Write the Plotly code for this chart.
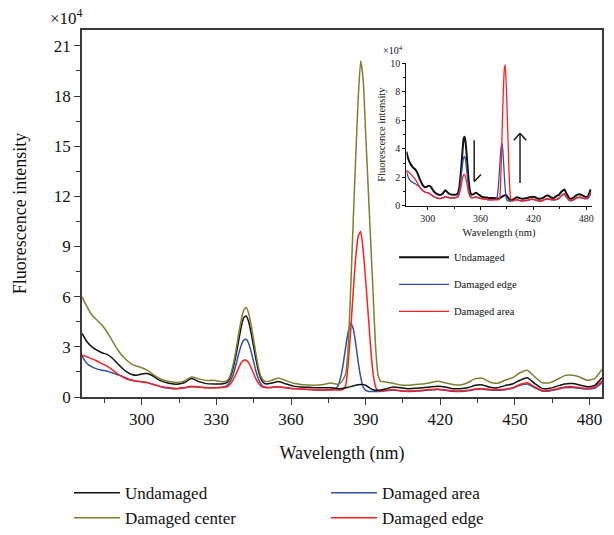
import plotly.graph_objects as go

# ---------------- data (values in units of 10^4) ----------------
wavelength = [276, 278, 280, 282, 284, 286, 288, 290, 292, 294, 296, 298, 300, 302, 304, 306, 308,
              311, 314, 317, 320, 323, 326, 329, 332,
              334, 335, 336, 337, 338, 339, 340, 341, 342, 343, 344, 345, 346, 347, 348, 349, 350,
              352, 355, 358, 361, 364, 367, 370, 373, 376,
              378, 379, 380, 381, 382, 383, 384, 385, 386, 387, 388, 389, 390, 391, 392, 393, 394, 395, 396,
              398, 401, 404, 407, 410, 413, 416, 419, 422, 425, 428, 431, 434, 437, 440, 443, 446, 449,
              452, 455, 458, 461, 464, 467, 470, 473, 476, 479, 482, 485]

undamaged = [3.8, 3.3, 3.0, 2.8, 2.65, 2.55, 2.35, 2.05, 1.75, 1.5, 1.35, 1.3, 1.38, 1.4, 1.3, 1.1, 0.95,
             0.82, 0.76, 0.85, 1.1, 0.92, 0.8, 0.78, 0.78,
             0.85, 1.0, 1.35, 1.9, 2.6, 3.4, 4.2, 4.75, 4.85, 4.5, 3.8, 3.0, 2.2, 1.5, 1.05, 0.85, 0.78,
             0.82, 0.92, 0.78, 0.65, 0.6, 0.58, 0.55, 0.55, 0.55,
             0.52, 0.5, 0.5, 0.52, 0.55, 0.58, 0.62, 0.66, 0.7, 0.73, 0.75, 0.74, 0.7, 0.6, 0.5, 0.43, 0.4, 0.4, 0.42,
             0.48, 0.6, 0.55, 0.5, 0.52, 0.55, 0.6, 0.64, 0.6, 0.5, 0.5, 0.55, 0.7, 0.72, 0.58, 0.55, 0.68, 0.78,
             1.0, 1.15, 0.8, 0.5, 0.52, 0.65, 0.78, 0.8, 0.72, 0.62, 0.7, 1.15]

damaged_center = [6.0, 5.4, 4.9, 4.6, 4.3, 3.9, 3.4, 2.9, 2.5, 2.2, 1.95, 1.85, 1.75, 1.62, 1.42, 1.2, 1.05,
                  0.93, 0.87, 0.95, 1.2, 1.08, 0.98, 1.0, 0.92,
                  0.95, 1.1, 1.5, 2.1, 2.9, 3.8, 4.6, 5.2, 5.35, 5.0, 4.3, 3.4, 2.5, 1.7, 1.2, 0.98, 0.92,
                  0.98, 1.14, 0.98, 0.82, 0.75, 0.72, 0.7, 0.75, 0.84,
                  0.78, 0.76, 0.85, 1.05, 1.4, 3.0, 6.5, 10.5, 14.3, 17.8, 20.1, 19.0, 15.8, 12.6, 9.4, 6.2, 3.0, 1.3, 0.95,
                  0.9, 0.82, 0.72, 0.7, 0.75, 0.78, 0.85, 0.94, 0.85, 0.75, 0.72, 0.85, 1.1, 1.12, 0.88, 0.82, 1.0, 1.15,
                  1.45, 1.6, 1.2, 0.85, 0.85, 1.05, 1.28, 1.3, 1.2, 1.0, 1.1, 1.65]

blue_series = [2.45, 2.0, 1.8, 1.68, 1.6, 1.55, 1.45, 1.35, 1.25, 1.12, 1.0, 0.95, 0.92, 0.88, 0.78, 0.68, 0.6,
               0.53, 0.5, 0.55, 0.62, 0.58, 0.55, 0.55, 0.58,
               0.66, 0.8, 1.05, 1.45, 2.0, 2.6, 3.1, 3.4, 3.45, 3.2, 2.7, 2.1, 1.5, 1.05, 0.75, 0.62, 0.58,
               0.57, 0.62, 0.55, 0.5, 0.48, 0.45, 0.42, 0.42, 0.45,
               0.5, 0.7, 1.2, 2.0, 3.0, 3.9, 4.4, 4.1, 3.2, 2.1, 1.2, 0.6, 0.4, 0.35, 0.33, 0.33, 0.33, 0.33, 0.33,
               0.37, 0.42, 0.36, 0.33, 0.35, 0.37, 0.42, 0.45, 0.4, 0.34, 0.33, 0.37, 0.45, 0.47, 0.42, 0.4, 0.44, 0.52,
               0.7, 0.78, 0.55, 0.35, 0.36, 0.46, 0.55, 0.57, 0.52, 0.48, 0.52, 0.85]

red_series = [2.5, 2.4, 2.28, 2.15, 2.0, 1.85, 1.65, 1.42, 1.22, 1.08, 1.0, 0.95, 0.9, 0.86, 0.78, 0.7, 0.62,
              0.55, 0.5, 0.55, 0.65, 0.6, 0.56, 0.55, 0.57,
              0.6, 0.68, 0.85, 1.1, 1.4, 1.75, 2.05, 2.2, 2.2, 2.05, 1.75, 1.4, 1.05, 0.8, 0.65, 0.58, 0.55,
              0.57, 0.62, 0.55, 0.5, 0.48, 0.45, 0.42, 0.42, 0.42,
              0.42, 0.42, 0.42, 0.45, 0.7, 2.0, 4.0, 6.3, 8.3, 9.6, 9.9, 8.8, 7.0, 5.0, 3.0, 1.4, 0.6, 0.38, 0.35,
              0.4, 0.45, 0.38, 0.36, 0.38, 0.4, 0.45, 0.48, 0.42, 0.37, 0.36, 0.4, 0.48, 0.5, 0.45, 0.44, 0.46, 0.55,
              0.75, 0.85, 0.6, 0.38, 0.4, 0.5, 0.6, 0.62, 0.56, 0.52, 0.6, 0.95]

main_names = {"black": "Undamaged", "olive": "Damaged center", "blue": "Damaged area", "red": "Damaged edge"}
inset_names = {"black": "Undamaged", "blue": "Damaged edge", "red": "Damaged area"}

main_yticks = [0, 3, 6, 9, 12, 15, 18, 21]
main_xticks = [300, 330, 360, 390, 420, 450, 480]
inset_yticks = [0, 2, 4, 6, 8, 10]
inset_xticks = [300, 360, 420, 480]

# ---------------- styling ----------------
SERIF = "Liberation Serif, Times New Roman, serif"
C_BLACK = "#111111"
C_OLIVE = "#7f7f30"
C_BLUE = "#2f4fa8"
C_RED = "#ff1f1f"
AX = "#3a3a3a"

fig = go.Figure()

main_specs = [
    (blue_series, main_names["blue"], C_BLUE, 2),
    (red_series, main_names["red"], C_RED, 4),
    (undamaged, main_names["black"], C_BLACK, 1),
    (damaged_center, main_names["olive"], C_OLIVE, 3),
]
for ys, name, col, rank in main_specs:
    fig.add_trace(go.Scatter(
        x=wavelength, y=ys, name=name, mode="lines",
        line=dict(color=col, width=1.5, shape="spline", smoothing=0.5),
        legendrank=rank, legend="legend", xaxis="x", yaxis="y"))

inset_specs = [
    (undamaged, inset_names["black"], C_BLACK, 2.0, 1),
    (blue_series, inset_names["blue"], C_BLUE, 1.3, 2),
    (red_series, inset_names["red"], C_RED, 1.3, 3),
]
for ys, name, col, w, rank in inset_specs:
    fig.add_trace(go.Scatter(
        x=wavelength, y=ys, name=name, mode="lines",
        line=dict(color=col, width=w, shape="spline", smoothing=0.5),
        legendrank=rank, legend="legend2", legendgroup="in" + str(rank),
        xaxis="x2", yaxis="y2"))

# arrows in inset (decorations)
arrow_line = dict(color="#111111", width=1.4)
fig.add_shape(type="line", xref="x2", yref="y2", x0=352.8, x1=352.8, y0=4.6, y1=1.7, line=arrow_line)
fig.add_shape(type="line", xref="x2", yref="y2", x0=352.8, x1=360.5, y0=1.7, y1=2.2, line=arrow_line)
fig.add_shape(type="line", xref="x2", yref="y2", x0=404.8, x1=404.8, y0=1.6, y1=5.1, line=arrow_line)
fig.add_shape(type="line", xref="x2", yref="y2", x0=404.8, x1=397.8, y0=5.1, y1=4.6, line=arrow_line)
fig.add_shape(type="line", xref="x2", yref="y2", x0=404.8, x1=411.8, y0=5.1, y1=4.6, line=arrow_line)

tickfont_main = dict(family=SERIF, size=17, color="#111111")
tickfont_in = dict(family=SERIF, size=10, color="#222222")

fig.update_layout(
    width=614, height=535,
    margin=dict(l=82, r=12, t=30, b=138, autoexpand=False),
    paper_bgcolor="white", plot_bgcolor="white",
    font=dict(family=SERIF, color="#111111"),
    xaxis=dict(
        domain=[0, 1], range=[276, 485], tickvals=main_xticks,
        ticks="outside", ticklen=6, tickwidth=1.3, tickcolor=AX,
        minor=dict(dtick=15, tick0=300, ticks="outside", ticklen=4, tickwidth=1.2, tickcolor=AX),
        showline=True, linecolor=AX, linewidth=1.6, mirror=True,
        showgrid=False, zeroline=False, tickfont=tickfont_main,
        title=dict(text="Wavelength (nm)", font=dict(family=SERIF, size=18), standoff=18),
    ),
    yaxis=dict(
        domain=[0, 1], range=[0, 21.95], tickvals=main_yticks,
        ticks="outside", ticklen=6, tickwidth=1.3, tickcolor=AX,
        minor=dict(dtick=1.5, tick0=0, ticks="outside", ticklen=4, tickwidth=1.2, tickcolor=AX),
        showline=True, linecolor=AX, linewidth=1.6, mirror=True,
        showgrid=False, zeroline=False, tickfont=tickfont_main,
        title=dict(text="Fluorescence intensity", font=dict(family=SERIF, size=18), standoff=22),
    ),
    xaxis2=dict(
        domain=[0.624, 0.98], anchor="y2", range=[276, 486], tickvals=inset_xticks,
        ticks="outside", ticklen=3, tickwidth=1, tickcolor="#111111",
        minor=dict(tickvals=[330, 390, 450], ticks="outside", ticklen=2, tickwidth=1, tickcolor="#111111"),
        showline=True, linecolor="#111111", linewidth=1.3, mirror=False,
        showgrid=False, zeroline=False, tickfont=tickfont_in,
        title=dict(text="Wavelength (nm)", font=dict(family=SERIF, size=10.5), standoff=5),
    ),
    yaxis2=dict(
        domain=[0.521, 0.909], anchor="x2", range=[0, 10], tickvals=inset_yticks,
        ticks="outside", ticklen=3, tickwidth=1, tickcolor="#111111",
        minor=dict(dtick=1, tick0=0, ticks="outside", ticklen=2, tickwidth=1, tickcolor="#111111"),
        showline=True, linecolor="#111111", linewidth=1.3, mirror=False,
        showgrid=False, zeroline=False, tickfont=tickfont_in,
        title=dict(text="Fluorescence intensity", font=dict(family=SERIF, size=10.5), standoff=2),
    ),
    legend=dict(
        orientation="h", x=-0.025, xanchor="left", y=-0.213, yanchor="top",
        entrywidth=196, entrywidthmode="pixels", itemwidth=46, traceorder="normal",
        font=dict(family=SERIF, size=17, color="#111111"), bgcolor="rgba(0,0,0,0)",
    ),
    legend2=dict(
        orientation="v", x=0.6, xanchor="left", y=0.42, yanchor="top",
        traceorder="grouped", tracegroupgap=8, itemwidth=50,
        font=dict(family=SERIF, size=10.5, color="#111111"), bgcolor="rgba(0,0,0,0)",
    ),
    annotations=[
        dict(text="×10<sup>4</sup>", xref="paper", yref="paper", x=-0.065, y=1.0,
             xanchor="left", yanchor="bottom", showarrow=False,
             font=dict(family=SERIF, size=17, color="#111111")),
        dict(text="×10<sup>4</sup>", xref="paper", yref="paper", x=0.575, y=0.925,
             xanchor="left", yanchor="bottom", showarrow=False,
             font=dict(family=SERIF, size=10, color="#111111")),
    ],
)

fig.write_html("out.html", config={"displayModeBar": False},
               post_script="document.body.style.margin='0';document.body.style.padding='0';")
